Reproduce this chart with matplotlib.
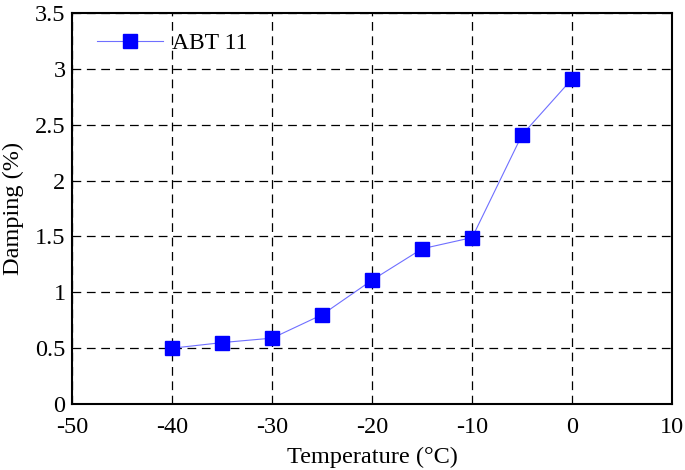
import matplotlib.pyplot as plt

temperature = [-40, -35, -30, -25, -20, -15, -10, -5, 0]
damping = [0.50, 0.55, 0.59, 0.80, 1.11, 1.39, 1.49, 2.41, 2.91]
xticks = [-50, -40, -30, -20, -10, 0, 10]
yticks = [0, 0.5, 1, 1.5, 2, 2.5, 3, 3.5]
ytick_labels = ['0', '0.5', '1', '1.5', '2', '2.5', '3', '3.5']

plt.rcParams['font.family'] = ['Liberation Serif', 'DejaVu Serif']

fig = plt.figure(figsize=(6.85, 4.7), dpi=100)
ax = fig.add_axes([0.1058, 0.1404, 0.8752, 0.8319])

ax.plot(temperature, damping, color='#6f6fff', linewidth=0.8,
        marker='s', markersize=10, markerfacecolor='blue',
        markeredgecolor='blue', label='ABT 11')

ax.set_xlim(-50, 10)
ax.set_ylim(0, 3.5)
ax.set_xticks(xticks)
ax.set_xticklabels([str(t) for t in xticks])
ax.set_yticks(yticks)
ax.set_yticklabels(ytick_labels)
ax.tick_params(direction='in', length=0, labelsize=17.5)
ax.tick_params(axis='x', pad=9.5)
ax.tick_params(axis='y', pad=5)
ax.grid(True, color='black', linestyle=(0, (7, 4.5)), linewidth=0.9)
for s in ax.spines.values():
    s.set_linewidth(1.5)

ax.set_xlabel('Temperature (°C)', fontsize=17.5, labelpad=6)
ax.set_ylabel('Damping (%)', fontsize=17.5, labelpad=8)

ax.legend(loc='upper left', bbox_to_anchor=(0.025, 0.975), borderaxespad=0,
          frameon=False, fontsize=17, handlelength=2.8, handletextpad=0.4)

fig.savefig('out.png', dpi=100)
